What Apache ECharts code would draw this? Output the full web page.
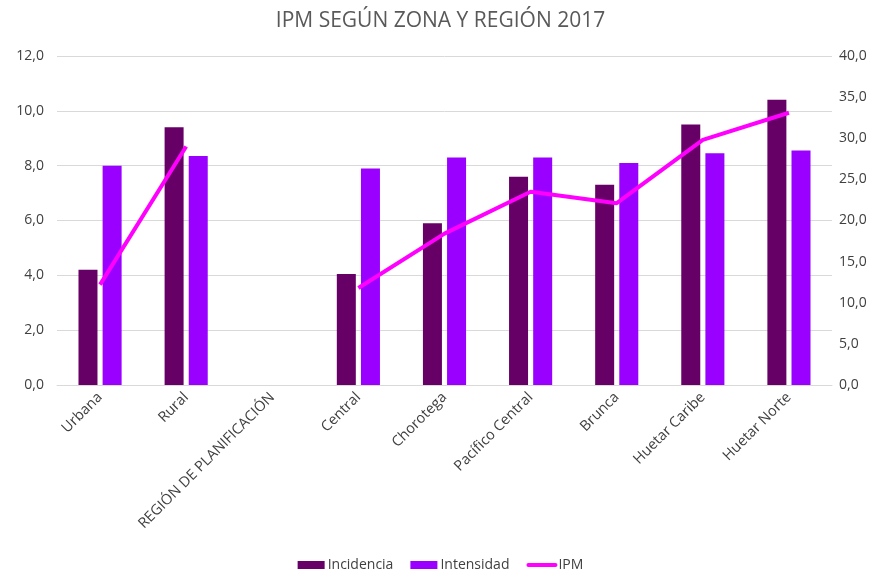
<!DOCTYPE html>
<html>
<head>
<meta charset="utf-8">
<script src="https://cdn.jsdelivr.net/npm/echarts@6/dist/echarts.min.js"></script>
<style>
  html, body { margin: 0; padding: 0; background: #fff; }
  #chart { width: 881px; height: 573px; }
</style>
</head>
<body>
<div id="chart"></div>
<script>
const categories = ['Urbana', 'Rural', 'REGIÓN DE PLANIFICACIÓN', 'Central', 'Chorotega', 'Pacífico Central', 'Brunca', 'Huetar Caribe', 'Huetar Norte']
const incidencia = [4.2, 9.4, null, 4.05, 5.9, 7.6, 7.3, 9.5, 10.4]
const intensidad = [8.0, 8.35, null, 7.9, 8.3, 8.3, 8.1, 8.45, 8.55]
const ipm = [12.2, 29.0, null, 11.8, 18.4, 23.5, 22.1, 29.8, 33.1]

const font = "'Open Sans', sans-serif"
const fmt = v => v.toFixed(1).replace('.', ',')

const chart = echarts.init(document.getElementById('chart'))
chart.setOption({
  animation: false,
  textStyle: { fontFamily: font },
  title: {
    text: 'IPM SEGÚN ZONA Y REGIÓN 2017',
    left: 'center',
    top: 6,
    textStyle: { fontFamily: font, fontSize: 21, fontWeight: 'normal', color: '#595959' },
  },
  legend: {
    top: 553,
    left: 'center',
    itemWidth: 27,
    itemHeight: 8,
    itemGap: 17,
    textStyle: { fontFamily: font, fontSize: 14, color: '#404040', padding: [0, 0, 0, -2] },
    data: [
      { name: 'Incidencia', icon: 'rect' },
      { name: 'Intensidad', icon: 'rect' },
      { name: 'IPM', itemStyle: { opacity: 0 }, lineStyle: { width: 4, cap: 'round' } },
    ],
  },
  grid: { left: 57, right: 49, top: 56, bottom: 188 },
  xAxis: {
    type: 'category',
    data: categories,
    axisLine: { lineStyle: { color: '#d9d9d9' } },
    axisTick: { show: false },
    axisLabel: { rotate: 45, interval: 0, fontSize: 14.5, color: '#404040', margin: 10 },
  },
  yAxis: [
    {
      type: 'value',
      min: 0,
      max: 12,
      interval: 2,
      axisLine: { show: false },
      axisTick: { show: false },
      axisLabel: { formatter: fmt, fontSize: 14, color: '#404040', margin: 13 },
      splitLine: { lineStyle: { color: '#d9d9d9' } },
    },
    {
      type: 'value',
      min: 0,
      max: 40,
      interval: 5,
      axisLine: { show: false },
      axisTick: { show: false },
      axisLabel: { formatter: fmt, fontSize: 14, color: '#404040', margin: 7 },
      splitLine: { show: false },
    },
  ],
  series: [
    {
      name: 'Incidencia',
      type: 'bar',
      data: incidencia,
      barWidth: 19,
      barGap: '27%',
      itemStyle: { color: '#660066' },
    },
    {
      name: 'Intensidad',
      type: 'bar',
      data: intensidad,
      barWidth: 19,
      itemStyle: { color: '#9900ff' },
    },
    {
      name: 'IPM',
      type: 'line',
      yAxisIndex: 1,
      data: ipm,
      symbol: 'none',
      connectNulls: false,
      lineStyle: { color: '#ff00ff', width: 4 },
      itemStyle: { color: '#ff00ff' },
    },
  ],
})
</script>
</body>
</html>
